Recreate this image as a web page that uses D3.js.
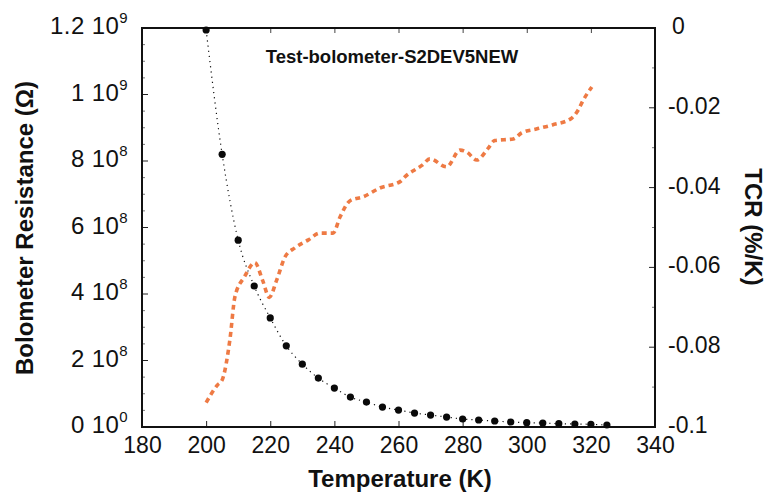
<!DOCTYPE html>
<html>
<head>
<meta charset="utf-8">
<script src="https://cdn.jsdelivr.net/npm/d3@7"></script>
<style>
  body { margin: 0; background: #fff; }
  svg { display: block; font-family: "Liberation Sans", Arial, sans-serif; }
</style>
</head>
<body>
<div id="chart"></div>
<script>
// ============================================
// DATA
// ============================================

// Bolometer resistance (ohm) vs temperature (K)
const resTemp = [200, 205, 210, 215, 220, 225, 230, 235, 240, 245, 250, 255, 260,
  265, 270, 275, 280, 285, 290, 295, 300, 305, 310, 315, 320, 325];
const resValues = [1.194e9, 8.2e8, 5.62e8, 4.24e8, 3.28e8, 2.44e8, 1.89e8, 1.47e8,
  1.17e8, 0.9e8, 0.75e8, 0.6e8, 0.51e8, 0.42e8, 0.36e8, 0.3e8, 0.24e8, 0.21e8,
  0.18e8, 0.15e8, 0.13e8, 0.12e8, 0.1e8, 0.09e8, 0.08e8, 0.06e8];

// TCR (%/K) vs temperature (K)
const tcrTemp = [200, 203.5, 205, 207.4, 209, 212, 215.2, 217.6, 219.7, 222, 224.6,
  227.7, 231.9, 235.5, 239.6, 241.8, 244.9, 249, 254.2, 260.5, 262, 267.5, 269.8,
  275, 279.2, 281.3, 284.4, 288, 290, 295.8, 298.4, 303, 308, 314, 316, 317.6, 320.3];
const tcrValues = [-0.0939, -0.0895, -0.0882, -0.0782, -0.0673, -0.0623, -0.0588,
  -0.0632, -0.0675, -0.0632, -0.0574, -0.0551, -0.0531, -0.0514, -0.0514, -0.0473,
  -0.0433, -0.0423, -0.0401, -0.0385, -0.0373, -0.0343, -0.0328, -0.0348, -0.0306,
  -0.0311, -0.0331, -0.0301, -0.0282, -0.0278, -0.0263, -0.0253, -0.0243, -0.0226,
  -0.0206, -0.0181, -0.0148];

// Tick labels
const xTicks = [180, 200, 220, 240, 260, 280, 300, 320, 340];
const leftTicks = [0, 2e8, 4e8, 6e8, 8e8, 1e9, 1.2e9];
const leftTickLabels = [["0 10", "0"], ["2 10", "8"], ["4 10", "8"], ["6 10", "8"],
  ["8 10", "8"], ["1 10", "9"], ["1.2 10", "9"]];
const rightTicks = [0, -0.02, -0.04, -0.06, -0.08, -0.1];
const rightTickLabels = ["0", "-0.02", "-0.04", "-0.06", "-0.08", "-0.1"];

const chartTitle = "Test-bolometer-S2DEV5NEW";

// ============================================
// LAYOUT
// ============================================

const width = 767;
const height = 493;
const plot = { left: 142, right: 655, top: 28, bottom: 427 };
const orange = "#ee7a44";

const svg = d3.select("#chart").append("svg")
  .attr("width", width)
  .attr("height", height);

const x = d3.scaleLinear().domain([180, 340]).range([plot.left, plot.right]);
const yL = d3.scaleLinear().domain([0, 1.2e9]).range([plot.bottom, plot.top]);
const yR = d3.scaleLinear().domain([-0.1, 0]).range([plot.bottom, plot.top]);

// ============================================
// AXES
// ============================================

const frame = svg.append("g");

// inward ticks: bottom & top
const xAxisB = d3.axisBottom(x).tickValues(xTicks).tickSize(-6).tickPadding(10).tickFormat(d3.format("d"));
const gB = frame.append("g").attr("transform", `translate(0,${plot.bottom})`).call(xAxisB);
gB.select(".domain").remove();
gB.selectAll("text").attr("font-size", 23).attr("fill", "#111").attr("dy", "0.71em");
gB.selectAll("line").attr("stroke", "#222");

const xAxisT = d3.axisTop(x).tickValues(xTicks.slice(1, -1)).tickSize(-5).tickFormat("");
const gT = frame.append("g").attr("transform", `translate(0,${plot.top})`).call(xAxisT);
gT.select(".domain").remove();
gT.selectAll("line").attr("stroke", "#444");

// left axis with minor ticks
const leftMinor = d3.range(0, 1.2e9 + 1, 5e7).filter(v => !leftTicks.some(t => Math.abs(t - v) < 1));
frame.append("g").selectAll("line").data(leftMinor).join("line")
  .attr("x1", plot.left).attr("x2", plot.left + 3)
  .attr("y1", d => yL(d)).attr("y2", d => yL(d))
  .attr("stroke", "#555").attr("stroke-width", 0.8);
frame.append("g").selectAll("line").data(leftTicks).join("line")
  .attr("x1", plot.left).attr("x2", plot.left + 6)
  .attr("y1", d => yL(d)).attr("y2", d => yL(d))
  .attr("stroke", "#222");

const leftLabels = frame.append("g").selectAll("text").data(leftTicks).join("text")
  .attr("x", plot.left - 14)
  .attr("y", d => yL(d) - 2)
  .attr("dy", "0.35em")
  .attr("text-anchor", "end")
  .attr("font-size", 24)
  .attr("letter-spacing", 0.4)
  .attr("fill", "#111");
leftLabels.append("tspan").text((d, i) => leftTickLabels[i][0]);
leftLabels.append("tspan")
  .attr("font-size", 15)
  .attr("dy", "-0.75em")
  .text((d, i) => leftTickLabels[i][1]);

// right axis with minor ticks
const rightMinor = d3.range(-0.1, 0.0001, 0.01).filter(v => !rightTicks.some(t => Math.abs(t - v) < 1e-6));
frame.append("g").selectAll("line").data(rightMinor).join("line")
  .attr("x1", plot.right).attr("x2", plot.right - 3)
  .attr("y1", d => yR(d)).attr("y2", d => yR(d))
  .attr("stroke", "#555").attr("stroke-width", 0.8);
frame.append("g").selectAll("line").data(rightTicks).join("line")
  .attr("x1", plot.right).attr("x2", plot.right - 6)
  .attr("y1", d => yR(d)).attr("y2", d => yR(d))
  .attr("stroke", "#222");
frame.append("g").selectAll("text").data(rightTicks).join("text")
  .attr("x", (d, i) => i === 0 ? plot.right + 17 : plot.right + 13)
  .attr("y", d => yR(d) - 2)
  .attr("dy", "0.35em")
  .attr("font-size", 23)
  .attr("fill", "#111")
  .text((d, i) => rightTickLabels[i]);

// frame
frame.append("rect")
  .attr("x", plot.left).attr("y", plot.top)
  .attr("width", plot.right - plot.left).attr("height", plot.bottom - plot.top)
  .attr("fill", "none").attr("stroke", "#111").attr("stroke-width", 2);

// ============================================
// SERIES
// ============================================

const resData = resTemp.map((t, i) => ({ t, v: resValues[i] }));
const tcrData = tcrTemp.map((t, i) => ({ t, v: tcrValues[i] }));

svg.append("path")
  .datum(resData)
  .attr("fill", "none")
  .attr("stroke", "#111")
  .attr("stroke-width", 1.2)
  .attr("stroke-dasharray", "1.2,4")
  .attr("d", d3.line().x(d => x(d.t)).y(d => yL(d.v)).curve(d3.curveMonotoneX));

svg.append("g").selectAll("circle").data(resData).join("circle")
  .attr("cx", d => x(d.t))
  .attr("cy", d => yL(d.v))
  .attr("r", 3.6)
  .attr("fill", "#0a0a0a");

svg.append("path")
  .datum(tcrData)
  .attr("fill", "none")
  .attr("stroke", orange)
  .attr("stroke-width", 3.6)
  .attr("stroke-dasharray", "5,4")
  .attr("d", d3.line().x(d => x(d.t)).y(d => yR(d.v)).curve(d3.curveMonotoneX));

// ============================================
// TEXT
// ============================================

svg.append("text")
  .attr("x", 392).attr("y", 63)
  .attr("text-anchor", "middle")
  .attr("font-size", 18.5).attr("font-weight", "bold")
  .attr("fill", "#111")
  .text(chartTitle);

svg.append("text")
  .attr("x", 400).attr("y", 487)
  .attr("text-anchor", "middle")
  .attr("font-size", 24).attr("font-weight", "bold")
  .attr("fill", "#111")
  .text("Temperature (K)");

svg.append("text")
  .attr("transform", "translate(33,228) rotate(-90)")
  .attr("text-anchor", "middle")
  .attr("font-size", 24).attr("font-weight", "bold")
  .attr("fill", "#111")
  .text("Bolometer Resistance (\u03A9)");

svg.append("text")
  .attr("transform", "translate(745,227) rotate(90)")
  .attr("text-anchor", "middle")
  .attr("font-size", 24).attr("font-weight", "bold")
  .attr("fill", "#111")
  .text("TCR (%/K)");
</script>
</body>
</html>
